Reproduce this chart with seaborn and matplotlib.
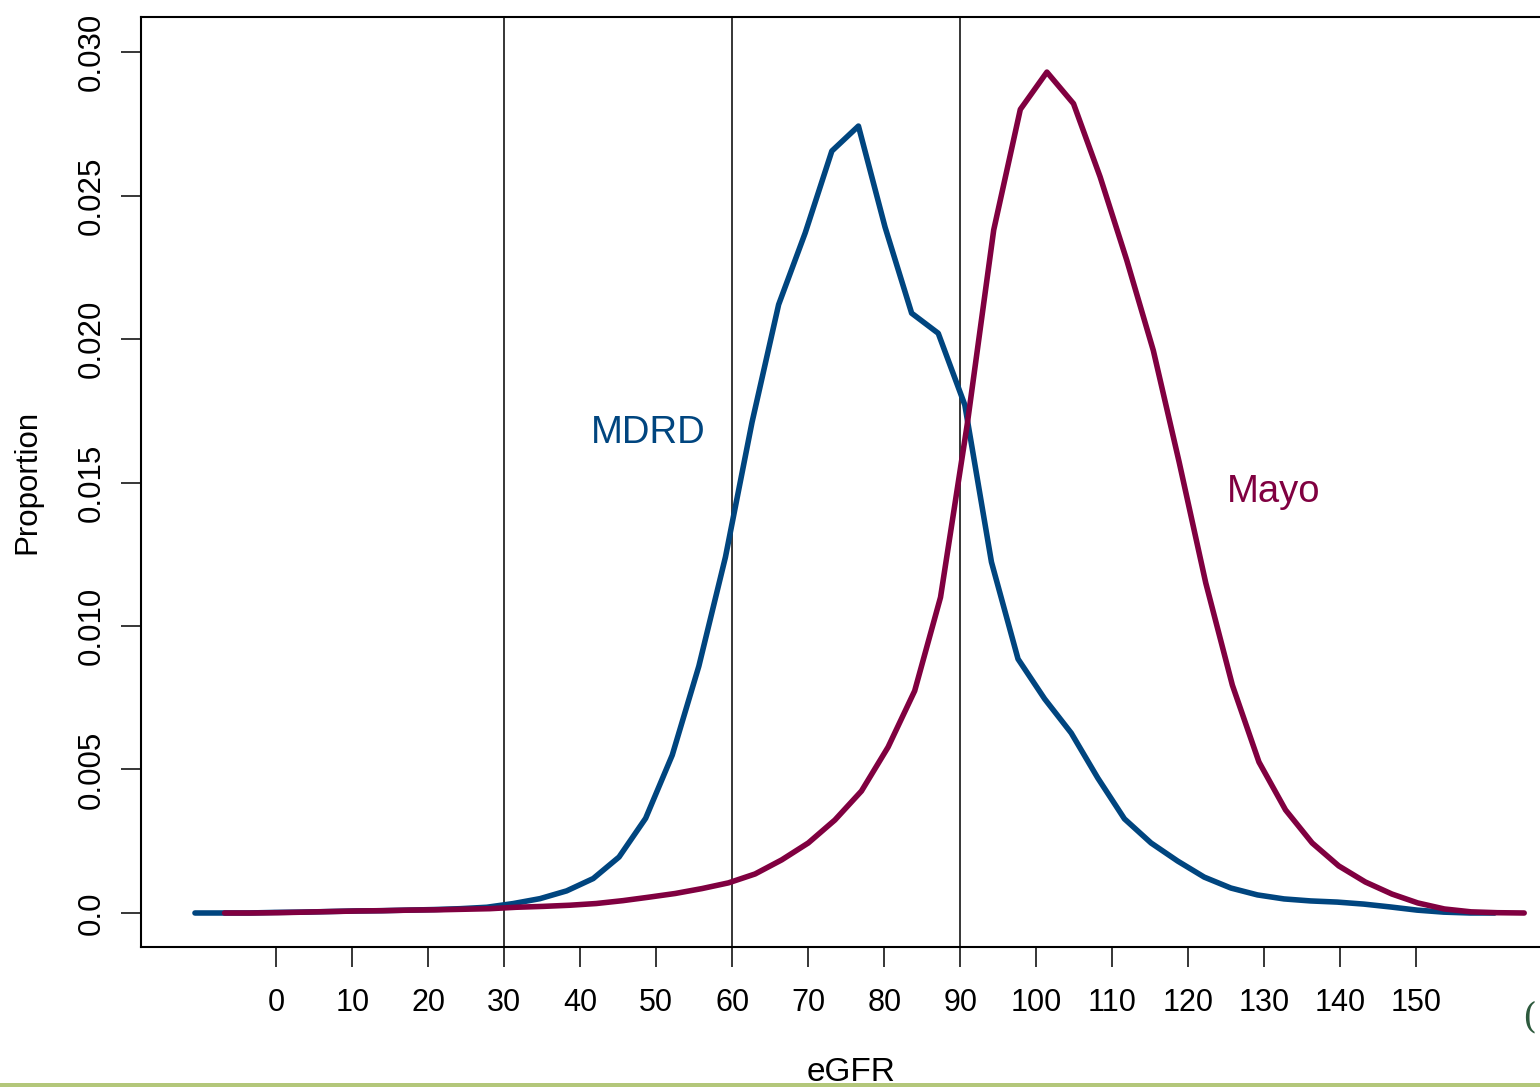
import matplotlib
matplotlib.use("Agg")
import matplotlib.pyplot as plt
import seaborn as sns
import pandas as pd
from matplotlib.patches import Rectangle

# ---- data ----
mdrd_x = [-10.7, -7.2, -3.7, -0.2, 3.3, 6.8, 10.3, 13.8, 17.3, 20.8,
          24.2, 27.7, 31.2, 34.7, 38.2, 41.7, 45.1, 48.6, 52.1, 55.6,
          59.1, 62.6, 66.1, 69.6, 73.1, 76.6, 80.1, 83.6, 87.1, 90.6,
          94.1, 97.6, 101.1, 104.6, 108.1, 111.6, 115.1, 118.6, 122.1, 125.6,
          129.1, 132.6, 136.1, 139.6, 143.1, 146.6, 150.1, 153.6, 157.1, 160.3]
mdrd_y = [0.0, 0.0, 0.0, 0.00002, 0.00003, 0.00005, 0.00007, 0.00008, 0.0001, 0.00012,
          0.00015, 0.0002, 0.00033, 0.0005, 0.00077, 0.0012, 0.00195, 0.0033, 0.0055, 0.0086,
          0.0124, 0.0171, 0.0212, 0.0237, 0.02655, 0.02742, 0.0239, 0.0209, 0.0202, 0.0177,
          0.01223, 0.00885, 0.00746, 0.00627, 0.0047, 0.00328, 0.00244, 0.00181, 0.00125, 0.00087,
          0.00063, 0.00049, 0.00042, 0.00038, 0.00031, 0.00021, 0.0001, 0.00003, 0.0, 0.0]

mayo_x = [-6.8, -3.3, 0.2, 3.7, 7.2, 10.7, 14.1, 17.6, 21.1, 24.6,
          28.1, 31.6, 35.1, 38.6, 42.1, 45.6, 49.0, 52.5, 56.0, 59.5,
          63.0, 66.5, 70.0, 73.5, 77.0, 80.5, 84.0, 87.4, 90.9, 94.4,
          97.9, 101.4, 104.9, 108.4, 111.9, 115.4, 118.8, 122.3, 125.8, 129.3,
          132.8, 136.3, 139.8, 143.3, 146.8, 150.2, 153.7, 157.2, 160.7, 164.2]
mayo_y = [0.0, 0.0, 0.00001, 0.00003, 0.00005, 0.00007, 0.00008, 0.0001, 0.00011, 0.00013,
          0.00015, 0.0002, 0.00023, 0.00027, 0.00033, 0.00043, 0.00055, 0.00068, 0.00085, 0.00105,
          0.00136, 0.00185, 0.00244, 0.00324, 0.00425, 0.00578, 0.00774, 0.011, 0.0170, 0.0238,
          0.0280, 0.0293, 0.0282, 0.02565, 0.02275, 0.0196, 0.01571, 0.0115, 0.00794, 0.00526,
          0.00359, 0.00244, 0.00164, 0.00108, 0.00066, 0.00035, 0.00014, 0.00004, 0.00001, 0.0]

x_ticks = [0, 10, 20, 30, 40, 50, 60, 70, 80, 90, 100, 110, 120, 130, 140, 150]
y_ticks = [0.0, 0.005, 0.010, 0.015, 0.020, 0.025, 0.030]
y_tick_labels = ["0.0", "0.005", "0.010", "0.015", "0.020", "0.025", "0.030"]
cut_points = [30, 60, 90]
series_names = ["MDRD", "Mayo"]

BLUE = "#00457f"
MAGENTA = "#800040"

sns.set_theme(style="white")
plt.rcParams["font.family"] = ["Liberation Sans", "DejaVu Sans"]

df_mdrd = pd.DataFrame({"eGFR": mdrd_x, "Proportion": mdrd_y})
df_mayo = pd.DataFrame({"eGFR": mayo_x, "Proportion": mayo_y})

W, H = 1540, 1087
fig = plt.figure(figsize=(W / 100, H / 100), dpi=100)
fig.patch.set_facecolor("white")

xlim = (-17.8, 169.0)
ylim = (-0.001185, 0.03122)
left_px, bottom_px, top_px = 141, 947, 17
px_per_x = 7.6
right_px = left_px + (xlim[1] - xlim[0]) * px_per_x
ax = fig.add_axes([left_px / W, (H - bottom_px) / H,
                   (right_px - left_px) / W, (bottom_px - top_px) / H])

for xv in cut_points:
    ax.axvline(xv, color="black", lw=1.1, zorder=1)

sns.lineplot(data=df_mdrd, x="eGFR", y="Proportion", color=BLUE, lw=4.0,
             ax=ax, zorder=3, sort=False)
sns.lineplot(data=df_mayo, x="eGFR", y="Proportion", color=MAGENTA, lw=4.0,
             ax=ax, zorder=4, sort=False)

ax.set_xlim(*xlim)
ax.set_ylim(*ylim)
ax.set_xticks(x_ticks)
ax.set_xticklabels([str(v) for v in x_ticks])
ax.set_yticks(y_ticks)
ax.set_yticklabels(y_tick_labels, rotation=90, va="center")

for s in ax.spines.values():
    s.set_color("black")
    s.set_linewidth(1.5)
    s.set_visible(True)

ax.tick_params(axis="x", which="major", direction="out", length=14.4, width=1.1,
               pad=15, labelsize=22, colors="black", bottom=True)
ax.tick_params(axis="y", which="major", direction="out", length=14.4, width=1.1,
               pad=10, labelsize=22.5, colors="black", left=True)

ax.set_xlabel("eGFR", fontsize=24, labelpad=28, color="black")
ax.set_ylabel("Proportion", fontsize=22.5, labelpad=25, color="black")

ax.text(48.9, 0.01638, series_names[0], color=BLUE, fontsize=27.5,
        ha="center", va="baseline")
ax.text(131.2, 0.01432, series_names[1], color=MAGENTA, fontsize=27.5,
        ha="center", va="baseline")

# decorative bottom strip and logo fragment from the slide
fig.add_artist(Rectangle((0, 0), 1, 4 / H, transform=fig.transFigure,
                         facecolor="#b3c77a", edgecolor="none"))
fig.text(1522 / W, (H - 1027) / H, "(", color="#2d5a3d", fontsize=26,
         family="DejaVu Serif")

fig.savefig("out.png", dpi=100, facecolor="white")
